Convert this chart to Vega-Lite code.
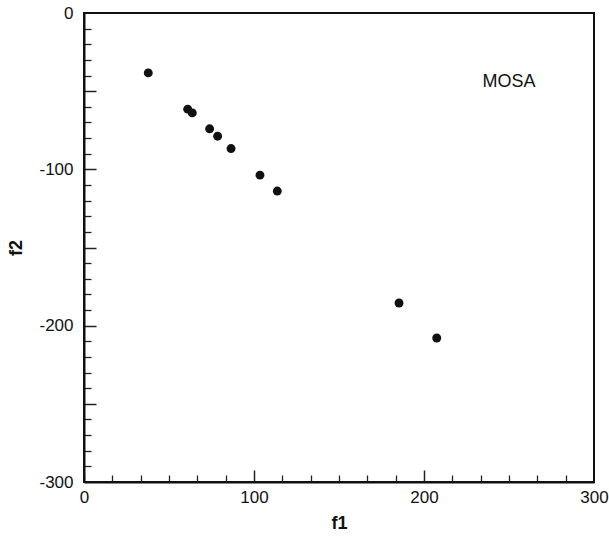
{
  "$schema": "https://vega.github.io/schema/vega-lite/v6.json",
  "width": 510,
  "height": 469,
  "autosize": {"type": "none"},
  "padding": {"left": 84, "top": 13, "right": 15, "bottom": 59},
  "background": "white",
  "config": {
    "view": {"stroke": "#111", "strokeWidth": 2},
    "font": "Liberation Sans",
    "axis": {"grid": false, "labelFont": "Liberation Sans", "titleFont": "Liberation Sans", "labelColor": "#111", "titleColor": "#111", "tickColor": "#222", "domainColor": "#111"}
  },
  "data": {"values": [
    {"f1": 37.8, "f2": -38.3},
    {"f1": 61.0, "f2": -61.5},
    {"f1": 63.7, "f2": -63.9},
    {"f1": 73.9, "f2": -74.1},
    {"f1": 78.6, "f2": -78.8},
    {"f1": 86.5, "f2": -86.7},
    {"f1": 103.5, "f2": -103.7},
    {"f1": 113.7, "f2": -113.9},
    {"f1": 185.3, "f2": -185.5},
    {"f1": 207.5, "f2": -207.9}
  ]},
  "resolve": {"axis": {"x": "independent", "y": "independent"}},
  "layer": [
    {
      "mark": {"type": "point", "opacity": 0},
      "encoding": {
        "x": {"field": "f1", "type": "quantitative", "scale": {"domain": [0, 300], "nice": false, "zero": false},
          "axis": {"orient": "bottom", "values": [0,16.667,33.333,50,66.667,83.333,116.667,133.333,150,166.667,183.333,216.667,233.333,250,266.667,283.333], "labels": false, "domain": false, "title": null, "tickSize": -7, "tickWidth": 1.3}},
        "y": {"field": "f2", "type": "quantitative", "scale": {"domain": [-300, 0], "nice": false, "zero": false},
          "axis": {"orient": "left", "values": [-290,-280,-270,-260,-240,-230,-220,-210,-190,-180,-170,-160,-140,-130,-120,-110,-90,-80,-70,-60,-40,-30,-20,-10], "labels": false, "domain": false, "title": null, "tickSize": -7, "tickWidth": 1.3}}
      }
    },
    {
      "mark": {"type": "point", "opacity": 0},
      "encoding": {
        "x": {"field": "f1", "type": "quantitative", "scale": {"domain": [0, 300], "nice": false, "zero": false},
          "axis": {"orient": "bottom", "values": [100, 200], "labels": false, "domain": false, "title": null, "tickSize": -12, "tickWidth": 1.5}},
        "y": {"field": "f2", "type": "quantitative", "scale": {"domain": [-300, 0], "nice": false, "zero": false},
          "axis": {"orient": "left", "values": [-250, -200, -150, -100, -50], "labels": false, "domain": false, "title": null, "tickSize": -12, "tickWidth": 1.5}}
      }
    },
    {
      "mark": {"type": "circle", "size": 80, "color": "#111", "opacity": 1},
      "encoding": {
        "x": {"field": "f1", "type": "quantitative", "scale": {"domain": [0, 300], "nice": false, "zero": false},
          "axis": {"orient": "bottom", "values": [0, 100, 200, 300], "labelExpr": "datum.value < 0 ? '-' + abs(datum.value) : '' + datum.value", "ticks": false, "domain": true, "domainWidth": 2, "labelPadding": 7, "labelFontSize": 17, "labelOverlap": false, "labelBound": false, "labelFlush": false, "title": "f1", "titleFontSize": 18, "titleFontWeight": "bold", "titlePadding": 9}},
        "y": {"field": "f2", "type": "quantitative", "scale": {"domain": [-300, 0], "nice": false, "zero": false},
          "axis": {"orient": "left", "values": [-300, -200, -100, 0], "labelExpr": "datum.value < 0 ? '-' + abs(datum.value) : '' + datum.value", "ticks": false, "domain": true, "domainWidth": 2, "labelPadding": 11, "labelFontSize": 17, "labelOverlap": false, "labelBound": false, "labelFlush": false, "title": "f2", "titleFontSize": 18, "titleFontWeight": "bold", "titlePadding": 13}}
      }
    },
    {
      "data": {"values": [{"f1": 250, "f2": -44, "label": "MOSA"}]},
      "mark": {"type": "text", "fontSize": 18, "font": "Liberation Sans", "color": "#111"},
      "encoding": {
        "x": {"field": "f1", "type": "quantitative", "scale": {"domain": [0, 300], "nice": false, "zero": false}, "axis": null},
        "y": {"field": "f2", "type": "quantitative", "scale": {"domain": [-300, 0], "nice": false, "zero": false}, "axis": null},
        "text": {"field": "label"}
      }
    }
  ]
}
